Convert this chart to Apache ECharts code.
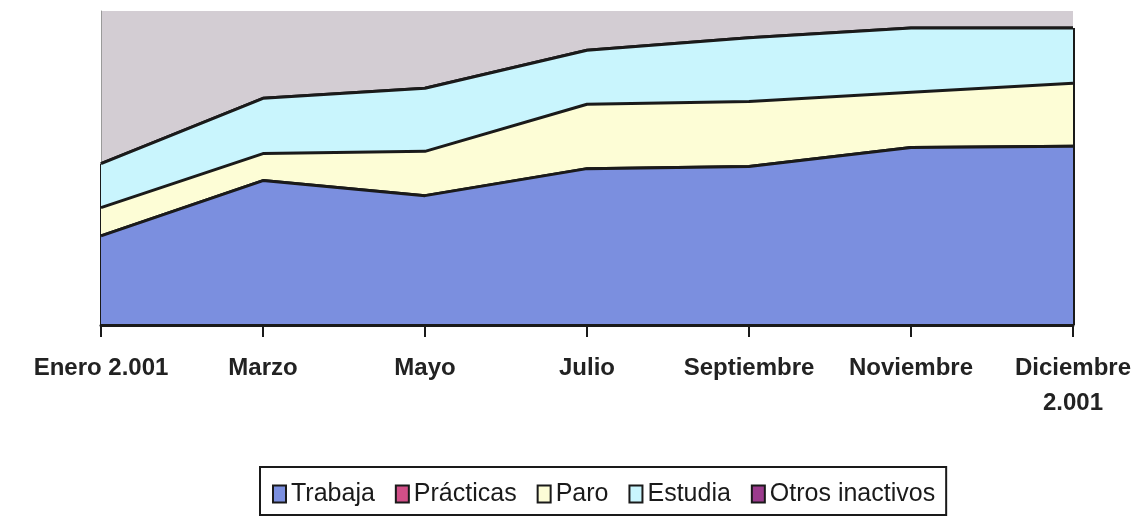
<!DOCTYPE html>
<html>
<head>
<meta charset="utf-8">
<script src="https://cdn.jsdelivr.net/npm/echarts@6/dist/echarts.min.js"></script>
<style>
  html, body { margin: 0; padding: 0; background: #ffffff; }
  #chart { width: 1144px; height: 522px; }
</style>
</head>
<body>
<div id="chart"></div>
<script>
// Months of the 2001 follow-up
const categories = ['Enero 2.001', 'Marzo', 'Mayo', 'Julio', 'Septiembre', 'Noviembre', 'Diciembre\n2.001'];

// Share of people in each situation (%), stacked from the bottom up
const trabaja = [28.4, 46.0, 41.2, 49.8, 50.5, 56.5, 56.9];
const practicas = [0, 0, 0, 0, 0, 0, 0];
const paro = [9.0, 8.6, 14.1, 20.5, 20.7, 17.6, 20.1];
const estudia = [14.0, 17.6, 20.1, 17.2, 20.3, 20.5, 17.6];
const otrosInactivos = [0, 0, 0, 0, 0, 0, 0];

const seriesNames = ['Trabaja', 'Prácticas', 'Paro', 'Estudia', 'Otros inactivos'];
const seriesValues = [trabaja, practicas, paro, estudia, otrosInactivos];
const seriesColors = ['#7b8fdf', '#d24f88', '#fdfdd6', '#c9f5fd', '#9b3b8d'];

// Height of the whole stack at a category, used for the vertical edges of the area
function stackTotal(i) {
  return seriesValues.reduce((s, arr) => s + arr[i], 0);
}
const last = categories.length - 1;

const font = "'Liberation Sans', Arial, sans-serif";

// Lower layers get a higher z so each outline stays on top of the band above it
const series = seriesNames.map((name, k) => {
  const s = {
    name: name,
    type: 'line',
    stack: 'total',
    data: seriesValues[k],
    symbol: 'none',
    lineStyle: { color: '#1a1a1a', width: 3 },
    itemStyle: { color: seriesColors[k], borderColor: '#1a1a1a', borderWidth: 2 },
    areaStyle: { color: seriesColors[k], opacity: 1 },
    z: 10 - k,
    emphasis: { disabled: true }
  };
  if (name === 'Trabaja') {
    s.markLine = {
      silent: true,
      symbol: 'none',
      label: { show: false },
      lineStyle: { color: '#1a1a1a', width: 3, type: 'solid' },
      data: [
        [{ coord: [0, 0] }, { coord: [0, stackTotal(0)] }],
        [{ coord: [last, 0] }, { coord: [last, stackTotal(last)] }]
      ]
    };
  }
  return s;
});

const chart = echarts.init(document.getElementById('chart'), null, { renderer: 'canvas' });
chart.setOption({
  animation: false,
  backgroundColor: '#ffffff',
  grid: {
    left: 101, right: 71, top: 11, bottom: 197,
    outerBoundsMode: 'none',
    containLabel: false,
    show: true, backgroundColor: '#d3cdd3', borderWidth: 0
  },
  xAxis: {
    type: 'category',
    data: categories,
    boundaryGap: false,
    axisLine: { lineStyle: { color: '#1a1a1a', width: 3 } },
    axisTick: { show: true, length: 12, lineStyle: { color: '#1a1a1a', width: 2 } },
    axisLabel: {
      interval: 0,
      margin: 26,
      color: '#222222',
      fontFamily: font,
      fontWeight: 'bold',
      fontSize: 24,
      lineHeight: 35
    },
    z: 20
  },
  yAxis: {
    type: 'value',
    min: 0,
    max: 100,
    axisLine: { show: true, lineStyle: { color: '#9a9a9a', width: 1 } },
    axisTick: { show: false },
    axisLabel: { show: false },
    splitLine: { show: false }
  },
  legend: {
    data: seriesNames,
    left: 260,
    top: 467,
    orient: 'horizontal',
    padding: [12, 11, 6, 12],
    itemGap: 20,
    itemWidth: 13,
    itemHeight: 17,
    borderColor: '#1a1a1a',
    borderWidth: 2,
    backgroundColor: '#ffffff',
    icon: 'rect',
    itemStyle: { borderColor: '#1a1a1a', borderWidth: 2 },
    textStyle: { color: '#1a1a1a', fontFamily: font, fontSize: 25, lineHeight: 30 },
    selectedMode: false
  },
  series: series
});
</script>
</body>
</html>
